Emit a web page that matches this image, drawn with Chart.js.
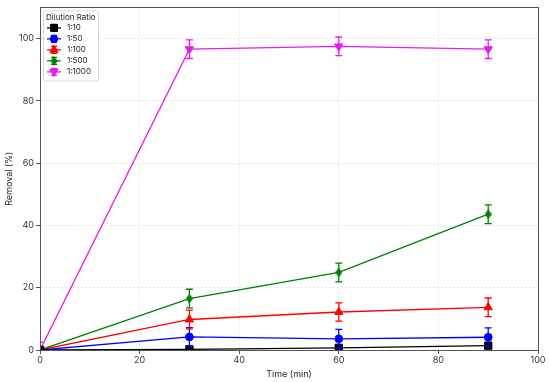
<!DOCTYPE html>
<html>
<head>
<meta charset="utf-8">
<script src="https://cdn.jsdelivr.net/npm/chart.js@4.4.1/dist/chart.umd.min.js"></script>
<style>
html,body{margin:0;padding:0;background:#fff;}
#wrap{width:550px;height:382px;}
</style>
</head>
<body>
<div id="wrap"><canvas id="c" width="550" height="382"></canvas></div>
<script>
const times = [0, 30, 60, 90];
const seriesNames = ["1:10", "1:50", "1:100", "1:500", "1:1000"];
const r10   = [0, 0.2, 0.7, 1.4];
const r50   = [0, 4.2, 3.6, 4.1];
const r100  = [0, 9.8, 12.2, 13.7];
const r500  = [0, 16.5, 24.9, 43.6];
const r1000 = [0, 96.6, 97.5, 96.6];
const e10   = [0, 0.3, 0.4, 0.5];
const e50   = [0, 3.0, 3.0, 3.0];
const e100  = [0, 3.0, 2.9, 3.0];
const e500  = [0, 3.0, 3.0, 3.0];
const e1000 = [2.5, 3.0, 3.0, 3.0];
const xTicks = [0, 20, 40, 60, 80, 100];
const yTicks = [0, 20, 40, 60, 80, 100];

const colors = ['#000000', '#0000ff', '#ff0000', '#008000', '#e81ce8'];
const FONT = 'Inter, "DejaVu Sans", sans-serif';

function thinDiamond(color, w, h) {
  const c = document.createElement('canvas');
  c.width = w; c.height = h;
  const g = c.getContext('2d');
  g.fillStyle = color;
  g.beginPath();
  g.moveTo(w / 2, 0); g.lineTo(w, h / 2); g.lineTo(w / 2, h); g.lineTo(0, h / 2);
  g.closePath(); g.fill();
  return c;
}
const shapes = ['rect', 'circle', 'triangle', thinDiamond('#008000', 7, 10), 'triangle'];
const radii = [5.2, 3.9, 4.8, 5, 4.8];
const rotations = [0, 0, 0, 0, 180];
const values = [r10, r50, r100, r500, r1000];
const errs = [e10, e50, e100, e500, e1000];

const datasets = seriesNames.map((name, i) => ({
  label: name,
  data: times.map((t, j) => ({x: t, y: values[i][j]})),
  errors: errs[i],
  borderColor: colors[i],
  backgroundColor: colors[i],
  pointBackgroundColor: colors[i],
  pointBorderColor: colors[i],
  pointStyle: shapes[i],
  pointRadius: radii[i],
  pointRotation: rotations[i],
  pointBorderWidth: 1,
  borderWidth: 1.3,
  tension: 0,
  clip: 0
}));

const errorBars = {
  id: 'errorBars',
  afterDatasetsDraw(chart) {
    const {ctx, scales: {x, y}, chartArea: a} = chart;
    ctx.save();
    ctx.beginPath();
    ctx.rect(a.left, a.top, a.right - a.left, a.bottom - a.top);
    ctx.clip();
    chart.data.datasets.forEach((ds) => {
      ctx.strokeStyle = ds.borderColor;
      ctx.lineWidth = 1.3;
      ds.data.forEach((p, j) => {
        const e = ds.errors[j];
        if (!e) return;
        const px = x.getPixelForValue(p.x);
        const y1 = y.getPixelForValue(p.y - e);
        const y2 = y.getPixelForValue(p.y + e);
        ctx.beginPath();
        ctx.moveTo(px, y1); ctx.lineTo(px, y2);
        ctx.moveTo(px - 3.5, y1); ctx.lineTo(px + 3.5, y1);
        ctx.moveTo(px - 3.5, y2); ctx.lineTo(px + 3.5, y2);
        ctx.stroke();
      });
    });
    ctx.restore();
  }
};

const frame = {
  id: 'frame',
  afterDraw(chart) {
    const {ctx, chartArea: a} = chart;
    ctx.save();
    ctx.strokeStyle = '#555';
    ctx.lineWidth = 1;
    ctx.strokeRect(Math.round(a.left) + 0.5, Math.round(a.top) + 0.5, Math.round(a.right - a.left), Math.round(a.bottom - a.top));
    ctx.restore();
  }
};

const innerLegend = {
  id: 'innerLegend',
  afterDraw(chart) {
    const {ctx, chartArea: a} = chart;
    const bx = a.left + 3, by = a.top + 3, bw = 55, bh = 70;
    ctx.save();
    ctx.fillStyle = 'rgba(255,255,255,0.85)';
    ctx.strokeStyle = '#d8d8d8';
    ctx.lineWidth = 1;
    ctx.beginPath();
    ctx.roundRect(bx + 0.5, by + 0.5, bw, bh, 2);
    ctx.fill(); ctx.stroke();
    ctx.fillStyle = '#222';
    ctx.font = '8px ' + FONT;
    ctx.textBaseline = 'middle';
    ctx.textAlign = 'left';
    ctx.fillText('Dilution Ratio', bx + 3, by + 7);
    chart.data.datasets.forEach((ds, i) => {
      const cy = by + 17.5 + i * 11;
      const lx = bx + 4, rx = bx + 18, mx = (lx + rx) / 2;
      ctx.strokeStyle = ds.borderColor;
      ctx.lineWidth = 1.3;
      ctx.beginPath();
      ctx.moveTo(lx, cy); ctx.lineTo(rx, cy);
      ctx.moveTo(mx, cy - 3.5); ctx.lineTo(mx, cy + 3.5);
      ctx.moveTo(mx - 3, cy - 3.5); ctx.lineTo(mx + 3, cy - 3.5);
      ctx.moveTo(mx - 3, cy + 3.5); ctx.lineTo(mx + 3, cy + 3.5);
      ctx.stroke();
      ctx.fillStyle = ds.borderColor;
      Chart.helpers.drawPoint(ctx, {pointStyle: ds.pointStyle, radius: ds.pointRadius * 0.9, rotation: ds.pointRotation, borderWidth: 1}, mx, cy);
      ctx.fillStyle = '#222';
      ctx.fillText(ds.label, bx + 24, cy);
    });
    ctx.restore();
  }
};

new Chart(document.getElementById('c'), {
  type: 'line',
  data: {datasets},
  options: {
    responsive: false,
    animation: false,
    layout: {padding: {top: 3, right: 12, left: 4, bottom: 2}},
    plugins: {legend: {display: false}, tooltip: {enabled: false}},
    scales: {
      x: {
        type: 'linear', min: 0, max: 100,
        afterBuildTicks: s => { s.ticks = xTicks.map(v => ({value: v})); },
        afterFit: s => { s.height = 30; },
        ticks: {color: '#333', font: {family: FONT, size: 9}, padding: 1, maxRotation: 0},
        grid: {color: '#e0e0e0', tickColor: '#555', tickLength: 4, lineWidth: 0.8, tickWidth: 1},
        border: {display: true, color: '#555', width: 1, dash: [2, 2]},
        title: {display: true, text: 'Time (min)', color: '#222', font: {family: FONT, size: 9}, padding: {top: 0, bottom: 0}}
      },
      y: {
        type: 'linear', min: 0, max: 110,
        afterBuildTicks: s => { s.ticks = yTicks.map(v => ({value: v})); },
        afterFit: s => { s.width = 36; },
        ticks: {color: '#333', font: {family: FONT, size: 9}, padding: 2},
        grid: {color: '#e0e0e0', tickColor: '#555', tickLength: 4, lineWidth: 0.8, tickWidth: 1},
        border: {display: true, color: '#555', width: 1, dash: [2, 2]},
        title: {display: true, text: 'Removal (%)', color: '#222', font: {family: FONT, size: 9}, padding: {top: 0, bottom: 2}}
      }
    }
  },
  plugins: [errorBars, frame, innerLegend]
});
</script>
</body>
</html>
